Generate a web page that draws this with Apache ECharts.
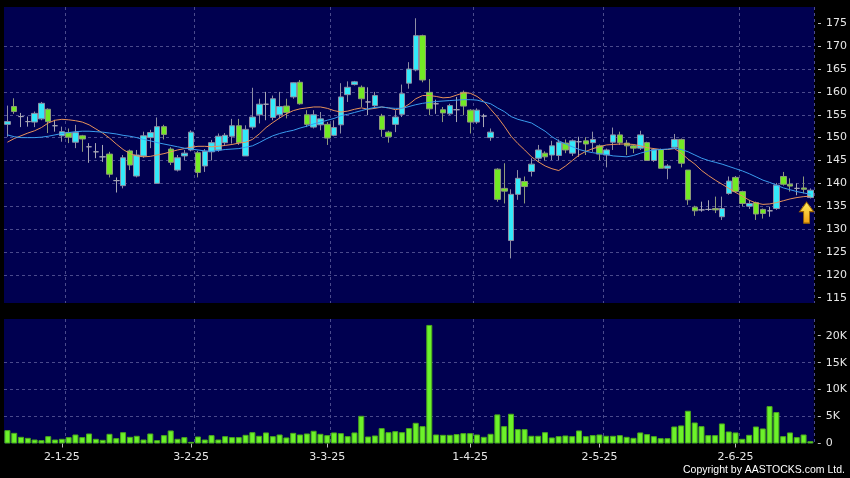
<!DOCTYPE html>
<html><head><meta charset="utf-8">
<script src="https://cdn.jsdelivr.net/npm/echarts@6/dist/echarts.min.js"></script>
<style>html,body{margin:0;padding:0;background:#000;} #c{width:850px;height:478px;}</style>
</head><body><div id="c"></div>
<script>
const dates = [
 '17-12-24','18-12-24','19-12-24','20-12-24','23-12-24','24-12-24','27-12-24','30-12-24','31-12-24',
 '2-1-25','3-1-25','6-1-25','7-1-25','8-1-25','9-1-25','10-1-25','13-1-25','14-1-25','15-1-25','16-1-25','17-1-25','20-1-25','21-1-25','22-1-25','23-1-25','24-1-25','27-1-25','28-1-25',
 '3-2-25','4-2-25','5-2-25','6-2-25','7-2-25','10-2-25','11-2-25','12-2-25','13-2-25','14-2-25','17-2-25','18-2-25','19-2-25','20-2-25','21-2-25','24-2-25','25-2-25','26-2-25','27-2-25','28-2-25',
 '3-3-25','4-3-25','5-3-25','6-3-25','7-3-25','10-3-25','11-3-25','12-3-25','13-3-25','14-3-25','17-3-25','18-3-25','19-3-25','20-3-25','21-3-25','24-3-25','25-3-25','26-3-25','27-3-25','28-3-25','31-3-25',
 '1-4-25','2-4-25','3-4-25','7-4-25','8-4-25','9-4-25','10-4-25','11-4-25','14-4-25','15-4-25','16-4-25','17-4-25','22-4-25','23-4-25','24-4-25','25-4-25','28-4-25','29-4-25','30-4-25',
 '2-5-25','6-5-25','7-5-25','8-5-25','9-5-25','12-5-25','13-5-25','14-5-25','15-5-25','16-5-25','19-5-25','20-5-25','21-5-25','22-5-25','23-5-25','26-5-25','27-5-25','28-5-25','29-5-25','30-5-25',
 '2-6-25','3-6-25','4-6-25','5-6-25','6-6-25','9-6-25','10-6-25','11-6-25','12-6-25','13-6-25','16-6-25'
];
const tickLabels = ['2-1-25','3-2-25','3-3-25','1-4-25','2-5-25','2-6-25'];
const priceTicks = [115,120,125,130,135,140,145,150,155,160,165,170,175];
const volTicks = [0,5000,10000,15000,20000];

const openP = [152.9,156.8,154.6,153.5,153.4,154.1,156.2,152.6,150.4,151.1,149.0,150.4,148.0,146.9,145.8,146.4,140.6,139.5,147.1,141.6,146.0,150.0,140.0,152.4,147.5,142.9,146.0,147.3,146.7,143.8,
 146.9,147.3,148.9,150.3,152.6,146.0,152.3,155.0,157.3,154.4,155.0,156.9,158.9,162.1,155.0,152.3,152.8,152.9,150.5,152.8,159.4,161.6,161.0,157.8,157.0,154.7,151.2,152.9,155.1,161.9,
 164.8,172.3,159.9,157.4,156.1,155.2,156.1,159.9,156.0,153.4,154.7,150.0,143.1,138.9,127.5,137.6,140.4,142.6,145.5,146.6,146.2,146.1,148.8,146.6,149.1,149.3,148.9,148.2,146.2,149.0,
 150.6,148.8,148.2,147.7,148.9,145.0,147.4,143.3,147.9,149.6,142.9,134.8,134.2,134.3,134.5,132.7,137.8,141.3,138.2,135.0,135.8,134.3,134.0,134.5,141.5,139.8,138.9,139.0,136.9];
const closeP = [153.5,155.7,154.6,153.5,155.3,157.5,153.5,152.6,151.3,150.1,151.1,149.7,148.0,146.9,145.8,142.0,140.6,145.6,144.0,146.2,150.4,151.1,152.4,150.7,144.6,145.6,146.6,151.2,142.4,147.0,
 148.9,150.3,150.5,152.6,148.9,151.8,154.5,157.3,157.3,158.5,156.8,155.5,162.0,157.4,152.9,155.0,154.1,149.9,152.2,158.9,161.0,162.2,158.5,157.8,159.2,151.8,150.2,154.5,159.6,165.0,
 172.3,162.6,156.3,157.4,155.4,157.0,156.1,156.9,153.4,156.0,154.7,151.2,136.5,138.3,137.6,141.1,139.3,144.2,147.3,145.8,148.2,149.0,147.3,149.3,149.1,148.6,149.6,146.4,147.3,150.6,
 148.9,148.2,147.7,150.6,145.0,147.4,143.3,143.8,149.6,144.4,136.4,134.0,134.2,134.3,134.2,134.5,140.5,138.2,135.6,135.6,133.3,133.4,134.0,139.6,139.8,139.4,138.9,138.7,138.5];
const lowP = [150.2,155.2,152.3,152.4,152.3,153.8,151.0,151.3,149.1,148.8,147.7,146.9,144.5,145.5,144.7,141.3,138.0,138.9,142.9,141.3,145.6,147.7,140.0,149.6,144.0,142.6,145.1,147.0,141.3,142.5,
 145.0,146.9,148.4,148.7,148.4,146.0,151.8,153.1,153.8,153.8,154.2,154.2,158.5,157.2,152.3,152.0,151.6,148.4,150.3,150.9,157.8,161.4,156.7,154.9,156.7,150.2,148.9,151.2,154.5,160.7,
 164.5,162.1,154.9,155.2,153.4,154.9,153.4,154.9,150.9,153.0,152.3,149.3,136.0,135.6,123.6,136.4,135.6,141.5,144.7,145.0,145.1,145.1,146.6,146.0,145.8,146.2,146.9,145.1,143.5,147.3,
 148.4,146.2,146.6,147.3,145.0,144.7,143.3,140.9,147.5,143.5,135.3,132.9,133.8,134.0,133.5,132.0,137.5,137.9,135.0,134.4,132.0,132.3,132.7,134.2,139.5,138.2,137.4,137.8,136.7];
const highP = [157.0,158.6,155.4,154.6,155.7,157.8,156.4,153.9,152.4,152.0,152.8,150.6,148.8,148.8,148.4,146.9,141.3,146.2,147.4,147.3,151.3,151.7,154.4,152.8,147.9,146.2,147.3,151.6,147.1,147.5,
 149.5,150.9,151.0,154.1,154.1,152.7,160.9,158.5,160.0,159.2,160.0,158.5,162.1,162.6,156.0,156.0,155.6,153.4,153.8,161.9,162.3,162.4,161.4,161.0,160.0,155.2,151.5,156.0,161.6,166.5,
 176.1,172.5,162.8,158.3,156.7,157.4,158.9,160.3,156.2,156.4,155.2,152.0,143.3,144.4,138.7,142.9,141.5,145.5,148.4,147.0,149.3,149.6,149.6,149.6,150.2,150.1,151.3,148.5,147.6,152.2,
 151.3,149.5,148.5,151.5,149.1,147.6,147.6,144.2,150.8,149.8,142.9,135.1,136.0,136.3,137.1,137.1,141.5,141.6,138.4,136.4,136.0,134.5,134.9,140.1,142.5,141.1,140.0,141.5,138.9];

const maShort = [149.0,149.8,150.4,151.0,151.5,152.2,153.2,153.8,154.0,153.9,153.7,153.4,152.8,151.9,151.0,149.9,148.6,147.4,146.5,146.0,145.8,145.9,146.2,146.5,146.9,147.3,147.6,147.9,148.1,148.1,
 148.0,148.1,148.3,148.5,148.8,149.0,149.6,150.8,152.2,153.3,154.3,155.2,155.9,156.3,156.5,156.7,156.7,156.4,155.9,155.6,155.8,156.2,156.5,156.2,156.4,156.7,156.5,156.1,156.4,157.3,
 158.5,159.2,159.2,159.0,158.7,158.8,159.3,159.8,159.7,159.0,157.9,156.2,154.5,152.5,150.3,148.7,147.3,145.8,144.7,143.8,143.2,142.8,143.8,145.0,146.2,147.0,147.6,148.0,148.4,148.5,
 148.6,148.6,148.5,148.2,147.8,147.6,147.4,147.4,147.6,146.6,145.3,144.2,142.8,141.7,140.7,139.8,138.9,138.0,137.2,136.3,135.7,135.4,135.5,135.8,136.2,136.6,136.9,137.1,137.2];
const maLong = [150.6,150.2,150.0,150.0,150.0,150.1,150.3,150.6,150.9,151.1,151.3,151.4,151.4,151.3,151.2,151.0,150.8,150.5,150.3,150.0,149.6,149.3,148.9,148.6,148.3,148.0,147.7,147.5,147.3,147.1,
 147.0,147.2,147.4,147.5,147.6,147.9,148.2,148.9,149.7,150.4,150.9,151.3,151.6,152.1,152.5,153.0,153.4,153.8,154.2,154.8,155.1,155.5,155.9,156.3,156.6,156.7,156.5,156.4,156.4,156.8,
 157.2,157.5,157.7,157.9,158.0,158.1,158.2,158.3,158.3,158.2,157.8,157.4,156.5,155.7,154.6,154.0,153.6,153.2,152.3,151.4,150.2,149.3,148.6,148.0,147.4,147.0,146.7,146.5,146.3,146.0,
 145.9,145.8,146.1,146.6,147.0,147.3,147.4,147.5,147.7,147.4,146.9,146.2,145.5,145.0,144.6,144.2,143.7,143.2,142.7,142.1,141.4,140.7,140.2,139.6,139.0,138.6,138.2,137.9,137.6];

const volume = [2480,1980,1240,1050,740,620,1360,740,870,1180,1670,1180,1860,870,680,1800,990,2100,1240,1430,740,1860,620,1550,2420,870,1180,310,1300,740,
 1550,740,1360,1180,1180,1610,2100,1430,2050,1360,1670,1120,1980,1670,1860,2360,1800,1550,2050,1920,1360,2050,5140,1300,1490,2850,2100,2290,2100,2850,
 3840,3220,22000,1670,1610,1610,1740,1920,1920,1670,1240,1800,5400,3220,5520,2670,2670,1430,1430,2100,1120,1360,1490,1360,2420,1360,1550,1670,1430,1430,
 1550,1240,1050,2050,1740,1360,990,990,3160,3350,6080,3900,3220,1550,1550,3720,2230,2050,870,1610,3160,2790,6940,5830,1360,2050,1180,1670,430];

const ohlc = dates.map((d, i) => [openP[i], closeP[i], lowP[i], highP[i]]);

const NAVY = '#000050';
const GRIDC = '#4A4A8C';
const TXT = '#E6E6E6';
const FONT = 'DejaVu Sans';

const isMonthStart = idx => tickLabels.includes(dates[idx]);
const isLabelSlot = idx => tickLabels.includes(dates[idx + 1]);

const chart = echarts.init(document.getElementById('c'), null, {renderer: 'canvas'});
chart.setOption({
  backgroundColor: '#000000',
  animation: false,
  grid: [
    {left: 4, width: 814, top: 7, height: 296, show: true, backgroundColor: NAVY, borderWidth: 0},
    {left: 4, width: 814, top: 319, height: 124.5, show: true, backgroundColor: NAVY, borderWidth: 0}
  ],
  xAxis: [
    {type: 'category', gridIndex: 0, data: dates, boundaryGap: true,
     axisLine: {show: false}, axisTick: {show: false}, axisLabel: {show: false},
     splitLine: {show: true, interval: isMonthStart, lineStyle: {color: GRIDC, type: [3, 3], width: 1}}},
    {type: 'category', gridIndex: 1, data: dates, boundaryGap: true,
     axisLine: {show: false},
     axisTick: {show: true, alignWithLabel: true, interval: isLabelSlot, length: 4, lineStyle: {color: '#BBBBBB'}},
     axisLabel: {show: true, interval: isLabelSlot, formatter: (v, idx) => dates[idx + 1],
       color: TXT, fontFamily: FONT, fontSize: 11, margin: 8},
     splitLine: {show: true, interval: isMonthStart, lineStyle: {color: GRIDC, type: [3, 3], width: 1}}}
  ],
  yAxis: [
    {type: 'value', gridIndex: 0, position: 'right', min: 113.84, max: 178.56, splitNumber: 13, offset: 4,
     axisLine: {show: false},
     axisTick: {show: true, length: 3, customValues: priceTicks, lineStyle: {color: '#BBBBBB'}},
     axisLabel: {show: true, customValues: priceTicks, color: TXT, fontFamily: FONT, fontSize: 11, margin: 8},
     splitLine: {show: true, showMinLine: false, showMaxLine: false, lineStyle: {color: GRIDC, type: [3, 3], width: 1}}},
    {type: 'value', gridIndex: 1, position: 'right', min: 0, max: 23100, interval: 5000, offset: 4,
     axisLine: {show: false},
     axisTick: {show: true, length: 3, customValues: volTicks, lineStyle: {color: '#BBBBBB'}},
     axisLabel: {show: true, customValues: volTicks, color: TXT, fontFamily: FONT, fontSize: 11, margin: 8,
       formatter: v => v === 0 ? '0' : (v / 1000) + 'K'},
     splitLine: {show: true, showMinLine: false, showMaxLine: false, lineStyle: {color: GRIDC, type: [3, 3], width: 1}}}
  ],
  series: [
    {type: 'candlestick', name: 'price', xAxisIndex: 0, yAxisIndex: 0, data: ohlc, barWidth: 6,
     itemStyle: {color: '#33EAFA', color0: '#72EA24', borderColor: '#8E8EA4', borderColor0: '#8E9A7A',
       borderColorDoji: '#A8A8B4', borderWidth: 1},
     markPoint: {
       symbol: 'path://M6,0 L12,9 L8.5,9 L8.5,20 L3.5,20 L3.5,9 L0,9 Z',
       symbolSize: [14, 21],
       label: {show: false},
       itemStyle: {color: new echarts.graphic.LinearGradient(0, 0, 0, 1, [{offset: 0, color: '#FFF060'}, {offset: 1, color: '#F0A010'}]),
         borderColor: '#A06800', borderWidth: 1},
       data: [{coord: [dates[118], 133.6], symbolOffset: [-4, 0]}]
     }},
    {type: 'line', name: 'maShort', xAxisIndex: 0, yAxisIndex: 0, data: maShort, symbol: 'none', smooth: false,
     lineStyle: {color: '#E8925A', width: 1}, z: 3},
    {type: 'line', name: 'maLong', xAxisIndex: 0, yAxisIndex: 0, data: maLong, symbol: 'none', smooth: false,
     lineStyle: {color: '#3A9CEE', width: 1}, z: 3},
    {type: 'bar', name: 'volume', xAxisIndex: 1, yAxisIndex: 1, data: volume, barWidth: 6,
     itemStyle: {color: '#6CF22A', borderColor: '#4AA81C', borderWidth: 1}}
  ],
  graphic: [
    {type: 'text', right: 5, top: 465, style: {text: 'Copyright by AASTOCKS.com Ltd.', fill: '#FFFFFF', font: '10.5px "Liberation Sans"'}}
  ]
});
</script>
</body></html>
